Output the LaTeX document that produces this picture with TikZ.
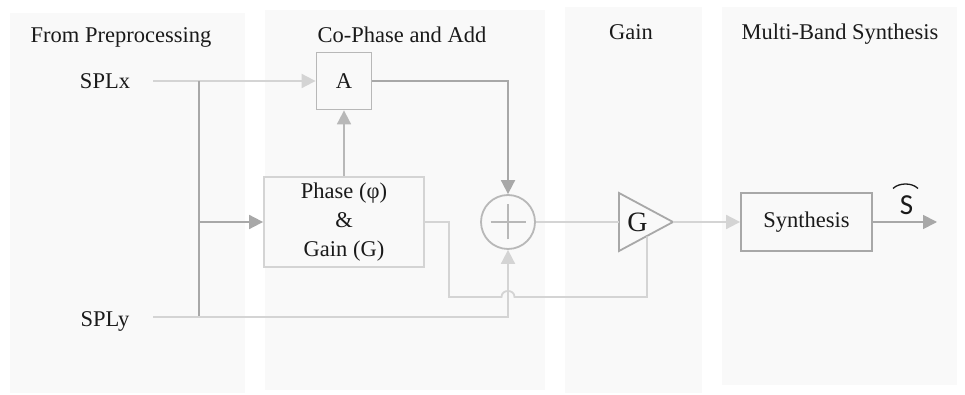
\documentclass[tikz,border=0pt]{standalone}
\usepackage{fontspec}
\setmainfont{Liberation Serif}
\newfontfamily\sansS{Carlito}
\usetikzlibrary{arrows.meta}
\definecolor{panelbg}{HTML}{F9F9F9}
\definecolor{lnA}{HTML}{D4D4D4}
\definecolor{lnB}{HTML}{B8B8B8}
\definecolor{lnC}{HTML}{A8A8A8}
\definecolor{txt}{HTML}{1A1A1A}
\begin{document}
\begin{tikzpicture}[x=1pt,y=1pt,
  panel/.style={fill=panelbg, draw=none},
  title/.style={font=\fontsize{22.5}{26}\selectfont, text=txt, inner sep=0pt, anchor=base},
  blk/.style={draw=lnB, line width=1.8pt, fill=panelbg, text=txt, inner sep=0pt,
    font=\fontsize{22.5}{29}\selectfont, align=center},
  conn/.style={line width=1.8pt},
  tip/.style={-{Triangle[length=14pt,width=14pt]}}
]
\useasboundingbox (0,0) rectangle (965,395);
\fill[white] (0,0) rectangle (965,395);
% panels
\fill[panel] (10,2) rectangle (245,382);
\fill[panel] (265,5) rectangle (545,385);
\fill[panel] (565,2) rectangle (702,388);
\fill[panel] (722,10) rectangle (957,388);
% titles
\node[title] (t1) at (121,352) {From Preprocessing};
\node[title] (t2) at (402,352) {Co-Phase and Add};
\node[title] (t3) at (631,355) {Gain};
\node[title] (t4) at (840,355) {Multi-Band Synthesis};
% inputs
\node[title] (splx) at (105,306) {SPLx};
\node[title] (sply) at (105,68) {SPLy};
\coordinate (x1s) at (153,314);
\coordinate (y1s) at (153,78);
\coordinate (brT) at (199,314);
\coordinate (brB) at (199,78);
\coordinate (brM) at (199,173);
% blocks
\node[blk, minimum width=55pt, minimum height=57pt] (A) at (344,314) {A};
\node[blk, draw=lnA, minimum width=160pt, minimum height=90pt] (Ph) at (344,173)
  {Phase (φ)\\\&\\Gain (G)};
\node[draw=lnB, fill=panelbg, line width=1.8pt, circle, minimum size=54pt, inner sep=0pt] (S) at (508,173) {};
\draw[lnB, line width=1.8pt] (S.center) ++(-17.5,0) -- ++(35,0);
\draw[lnB, line width=1.8pt] (S.center) ++(0,-17.5) -- ++(0,35);
% gain triangle
\coordinate (Gin) at (619,173);
\coordinate (Gout) at (673,173);
\coordinate (Gbot) at (647,158.5);
\draw[lnC, line width=1.8pt, fill=panelbg, line join=miter] (619,202) -- (Gout) -- (619,144) -- cycle;
\node[text=txt, font=\fontsize{28}{32}\selectfont, inner sep=0pt] (Glbl) at (637.5,173) {G};
\node[blk, draw=lnC, minimum width=131pt, minimum height=58pt] (Syn) at (806.5,173) {Synthesis};
\coordinate (out) at (937,173);
% output label
\node[text=txt, font=\sansS\fontsize{29}{32}\selectfont, inner sep=0pt] (shat) at (906.5,190) {S};
\draw[txt, line width=1.3pt] (893,206.5) .. controls (899,212.5) and (912,212.5) .. (918,206.5);
% connectors
\draw[conn, lnA, tip] (x1s) -- (A.west);
\draw[conn, lnC] (brT) -- (brB);
\draw[conn, lnC, tip] (brM) -- (Ph.west);
\draw[conn, lnB, tip] (Ph.north) -- (A.south);
\draw[conn, lnC, tip] (A.east) -| (S.north);
\draw[conn, lnA, tip] (y1s) -| (S.south);
\draw[conn, lnA] (Ph.east) -- (449,173) -- (449,98) -- (501.5,98)
  .. controls (501.5,106) and (514.5,106) .. (514.5,98) -- (647,98) -- (Gbot);
\draw[conn, lnA] (S.east) -- (Gin);
\draw[conn, lnA, tip] (Gout) -- (Syn.west);
\draw[conn, lnC, tip] (Syn.east) -- (out);
\end{tikzpicture}
\end{document}
